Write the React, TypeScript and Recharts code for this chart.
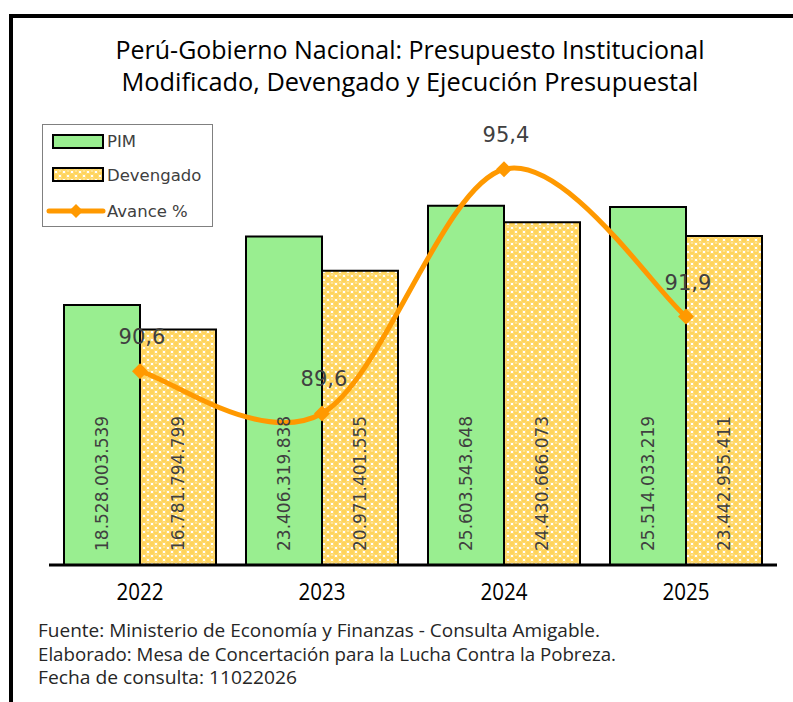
import { ComposedChart, Bar, Line, XAxis, YAxis, LabelList } from "recharts";

const years = ["2022", "2023", "2024", "2025"];
const pim = [18528003539, 23406319838, 25603543648, 25514033219];
const devengado = [16781794799, 20971401555, 24430666073, 23442955411];
const avance = [90.6, 89.6, 95.4, 91.9];

const titleLines = [
  "Perú-Gobierno Nacional: Presupuesto Institucional",
  "Modificado, Devengado y Ejecución Presupuestal",
];
const footerLines = [
  "Fuente: Ministerio de Economía y Finanzas - Consulta Amigable.",
  "Elaborado: Mesa de Concertación para la Lucha Contra la Pobreza.",
  "Fecha de consulta: 11022026",
];

const data = years.map((y, i) => ({
  year: y,
  pim: pim[i],
  dev: devengado[i],
  avance: avance[i],
}));

const W = 793;
const H = 702;
const CAL = "'Open Sans', 'Noto Sans', sans-serif";
const VER = "'DejaVu Sans', Verdana, sans-serif";
const ORANGE = "#FF9900";
const GREEN = "#99EE90";

function fmtMiles(v: number) {
  return String(v).replace(/\B(?=(\d{3})+(?!\d))/g, ".");
}

// suavizado tipo Excel (Catmull-Rom)
function smoothCurve(context: any) {
  let pts: number[][] = [];
  return {
    areaStart() {},
    areaEnd() {},
    lineStart() {
      pts = [];
    },
    point(x: number, y: number) {
      pts.push([+x, +y]);
    },
    lineEnd() {
      if (!pts.length) return;
      context.moveTo(pts[0][0], pts[0][1]);
      for (let i = 0; i < pts.length - 1; i++) {
        const p0 = pts[i - 1] || pts[i];
        const p1 = pts[i];
        const p2 = pts[i + 1];
        const p3 = pts[i + 2] || pts[i + 1];
        context.bezierCurveTo(
          p1[0] + (p2[0] - p0[0]) / 6,
          p1[1] + (p2[1] - p0[1]) / 6,
          p2[0] - (p3[0] - p1[0]) / 6,
          p2[1] - (p3[1] - p1[1]) / 6,
          p2[0],
          p2[1]
        );
      }
    },
  };
}

function Pattern({ id }: { id: string }) {
  return (
    <pattern id={id} width="8" height="8" patternUnits="userSpaceOnUse">
      <rect width="8" height="8" fill="#ffffff" />
      <circle cx="4" cy="4" r="2.9" fill="#FFD45C" />
      <circle cx="0" cy="0" r="2.9" fill="#FFD45C" />
      <circle cx="8" cy="0" r="2.9" fill="#FFD45C" />
      <circle cx="0" cy="8" r="2.9" fill="#FFD45C" />
      <circle cx="8" cy="8" r="2.9" fill="#FFD45C" />
      <ellipse cx="4" cy="3" rx="1.5" ry="0.7" fill="#FFECB0" />
    </pattern>
  );
}

const BarValue = (props: any) => {
  const { x, y, width, height, value } = props;
  const cx = x + width / 2;
  const by = y + height - 14;
  return (
    <text
      x={cx}
      y={by}
      transform={`rotate(-90 ${cx} ${by})`}
      textAnchor="start"
      dominantBaseline="central"
      fontFamily={VER}
      fontSize={17}
      fill="#404040"
    >
      {fmtMiles(value)}
    </text>
  );
};

const PctLabel = (props: any) => {
  const { x, y, value } = props;
  return (
    <text
      x={x + 2}
      y={y - 34}
      textAnchor="middle"
      dominantBaseline="central"
      fontFamily={VER}
      fontSize={21}
      fill="#404040"
    >
      {String(value).replace(".", ",")}
    </text>
  );
};

const Diamond = (props: any) => {
  const { cx, cy } = props;
  if (cx == null || cy == null) return null;
  const r = 8;
  return (
    <path
      d={`M${cx},${cy - r}L${cx + r},${cy}L${cx},${cy + r}L${cx - r},${cy}Z`}
      fill={ORANGE}
    />
  );
};

const YearTick = (props: any) => {
  const { x, y, payload } = props;
  return (
    <text
      x={x}
      y={y + 27}
      textAnchor="middle"
      fontFamily={CAL}
      fontSize={24}
      textLength={47}
      lengthAdjust="spacingAndGlyphs"
      fill="#000"
    >
      {payload.value}
    </text>
  );
};

function Overlay() {
  return (
    <svg
      width={W}
      height={H}
      style={{ position: "absolute", left: 0, top: 0, pointerEvents: "none" }}
    >
      <defs>
        <Pattern id="devLegend" />
      </defs>
      <rect x={9} y={14} width={4} height={H - 14} fill="#000" />
      <rect x={9} y={14} width={W - 9} height={4} fill="#000" />
      <text x={410} y={59} textAnchor="middle" fontFamily={CAL} fontSize={25}
        textLength={589} lengthAdjust="spacingAndGlyphs" fill="#000">
        {titleLines[0]}
      </text>
      <text x={410} y={91} textAnchor="middle" fontFamily={CAL} fontSize={25}
        textLength={577} lengthAdjust="spacingAndGlyphs" fill="#000">
        {titleLines[1]}
      </text>
      {/* leyenda */}
      <rect x={42.5} y={124.5} width={170} height={102} fill="#fff" stroke="#808080" strokeWidth={1} />
      <rect x={53} y={135} width={50} height={13} fill={GREEN} stroke="#000" strokeWidth={2} />
      <text x={107} y={147} fontFamily={VER} fontSize={16.5} fill="#404040">PIM</text>
      <rect x={53} y={168} width={50} height={13} fill="url(#devLegend)" stroke="#000" strokeWidth={2} />
      <text x={107} y={181} fontFamily={VER} fontSize={16.5} fill="#404040">Devengado</text>
      <line x1={49} y1={211} x2={103} y2={211} stroke={ORANGE} strokeWidth={5} strokeLinecap="round" />
      <path d="M76,204L83,211L76,218L69,211Z" fill={ORANGE} />
      <text x={107} y={217} fontFamily={VER} fontSize={16.5} fill="#404040">Avance %</text>
      {/* pie */}
      <text x={38} y={637} fontFamily={CAL} fontSize={18} textLength={562}
        lengthAdjust="spacingAndGlyphs" fill="#262626">{footerLines[0]}</text>
      <text x={38} y={661} fontFamily={CAL} fontSize={18} textLength={578}
        lengthAdjust="spacingAndGlyphs" fill="#262626">{footerLines[1]}</text>
      <text x={38} y={684} fontFamily={CAL} fontSize={18} textLength={259}
        lengthAdjust="spacingAndGlyphs" fill="#262626">{footerLines[2]}</text>
    </svg>
  );
}

export default function App() {
  return (
    <div style={{ position: "absolute", left: 0, top: 0, width: W, height: H, background: "#fff" }}>
      <div style={{ position: "absolute", left: 0, top: 0 }}>
        <ComposedChart
          width={W}
          height={H}
          data={data}
          margin={{ top: 144, right: 16, bottom: 97, left: 49 }}
          barGap={0}
        >
          <defs>
            <Pattern id="devFill" />
          </defs>
          <XAxis
            dataKey="year"
            height={40}
            axisLine={{ stroke: "#000", strokeWidth: 3 }}
            tickLine={false}
            tick={<YearTick />}
            interval={0}
          />
          <YAxis yAxisId="monto" hide domain={[0, 30000000000]} />
          <YAxis yAxisId="pct" hide orientation="right" domain={[86, 96]} />
          <Bar
            yAxisId="monto"
            dataKey="pim"
            barSize={76}
            fill={GREEN}
            stroke="#000"
            strokeWidth={2}
            isAnimationActive={false}
          >
            <LabelList dataKey="pim" content={<BarValue />} />
          </Bar>
          <Bar
            yAxisId="monto"
            dataKey="dev"
            barSize={76}
            fill="url(#devFill)"
            stroke="#000"
            strokeWidth={2}
            isAnimationActive={false}
          >
            <LabelList dataKey="dev" content={<BarValue />} />
          </Bar>
          <Line
            yAxisId="pct"
            type={smoothCurve as any}
            dataKey="avance"
            stroke={ORANGE}
            strokeWidth={5}
            dot={<Diamond />}
            activeDot={false}
            isAnimationActive={false}
          >
            <LabelList dataKey="avance" content={<PctLabel />} />
          </Line>
        </ComposedChart>
      </div>
      <Overlay />
    </div>
  );
}
